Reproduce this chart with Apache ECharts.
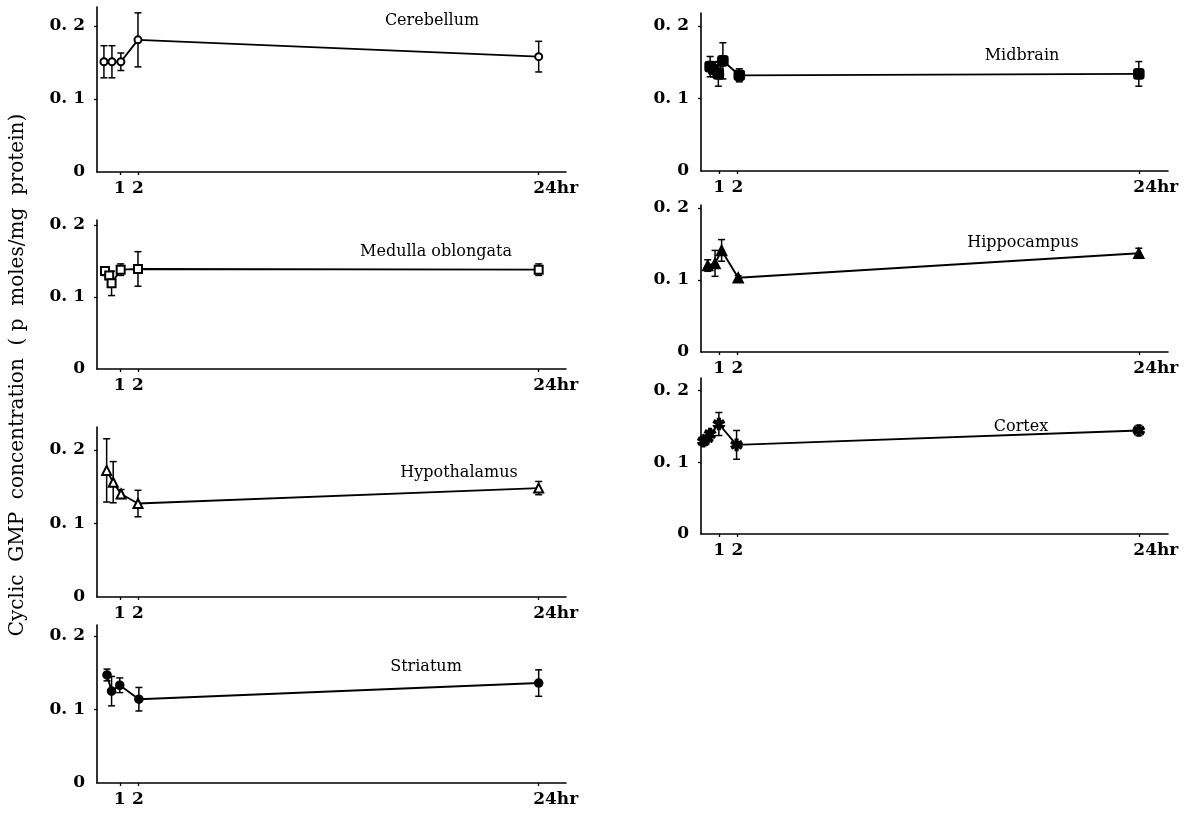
<!DOCTYPE html>
<html>
<head>
<meta charset="utf-8">
<script src="https://cdn.jsdelivr.net/npm/echarts@6/dist/echarts.min.js"></script>
<style>
html, body { margin: 0; padding: 0; background: #fff; }
#chart { width: 1187px; height: 813px; }
</style>
</head>
<body>
<div id="chart"></div>
<script>
// Regions, in drawing order (left column top to bottom, then right column)
const regionNames = ['Cerebellum', 'Medulla oblongata', 'Hypothalamus', 'Striatum',
                     'Midbrain', 'Hippocampus', 'Cortex'];
const axisTitle = 'Cyclic  GMP  concentration  ( p  moles/mg  protein)';
const xTickHours = [1, 2, 24];
const yTickValues = [0, 0.1, 0.2];

// Time after treatment (hr), mean cGMP and error (p moles/mg protein)
const cerebellumHours = [0.13, 0.57, 1.06, 2, 24];
const cerebellumMean  = [0.151, 0.151, 0.151, 0.181, 0.158];
const cerebellumErr   = [0.022, 0.022, 0.012, 0.037, 0.021];

const medullaHours = [0.19, 0.42, 0.55, 1.05, 2, 24];
const medullaMean  = [0.136, 0.130, 0.119, 0.138, 0.139, 0.138];
const medullaErr   = [0.006, 0.005, 0.017, 0.008, 0.024, 0.008];

const hypothalamusHours = [0.28, 0.64, 1.07, 2, 24];
const hypothalamusMean  = [0.172, 0.156, 0.140, 0.127, 0.148];
const hypothalamusErr   = [0.043, 0.028, 0.006, 0.018, 0.009];

const striatumHours = [0.3, 0.55, 1.0, 2.05, 24];
const striatumMean  = [0.147, 0.125, 0.133, 0.114, 0.136];
const striatumErr   = [0.008, 0.020, 0.010, 0.016, 0.018];

const midbrainHours = [0.5, 0.7, 0.95, 1.2, 2.1, 24];
const midbrainMean  = [0.144, 0.140, 0.134, 0.152, 0.132, 0.134];
const midbrainErr   = [0.014, 0.010, 0.017, 0.025, 0.009, 0.017];

const hippocampusHours = [0.37, 0.77, 1.13, 2.04, 24];
const hippocampusMean  = [0.120, 0.123, 0.141, 0.103, 0.137];
const hippocampusErr   = [0.008, 0.018, 0.015, 0.003, 0.007];

const cortexHours = [0.13, 0.35, 0.5, 0.98, 1.95, 24];
const cortexMean  = [0.129, 0.133, 0.139, 0.153, 0.124, 0.144];
const cortexErr   = [0.006, 0.004, 0.005, 0.016, 0.020, 0.007];

const hoursList = [cerebellumHours, medullaHours, hypothalamusHours, striatumHours,
                   midbrainHours, hippocampusHours, cortexHours];
const meanList  = [cerebellumMean, medullaMean, hypothalamusMean, striatumMean,
                   midbrainMean, hippocampusMean, cortexMean];
const errList   = [cerebellumErr, medullaErr, hypothalamusErr, striatumErr,
                   midbrainErr, hippocampusErr, cortexErr];

// Asterisk marker built from three crossed bars
function asteriskPath() {
  const parts = [];
  for (const deg of [0, 60, 120]) {
    const a = deg * Math.PI / 180, c = Math.cos(a), s = Math.sin(a);
    const L = 6, W = 1.4;
    const pts = [[-W, -L], [W, -L], [W, L], [-W, L]]
      .map(([px, py]) => [px * c - py * s + 10, px * s + py * c + 10]);
    parts.push('M' + pts.map(p => p[0].toFixed(2) + ' ' + p[1].toFixed(2)).join(' L') + ' Z');
  }
  return 'path://' + parts.join(' ');
}

// Panel frames and marker styles
const LEFT = { left: 97, width: 469, min: -0.25, max: 25.5 };
const RIGHT = { left: 701, width: 467, min: 0, max: 25.6 };
const frames = [
  { col: LEFT,  top: 7,   height: 165, yMax: 0.226, tx: 432,  ty: 21 },
  { col: LEFT,  top: 220, height: 149, yMax: 0.207, tx: 436,  ty: 252 },
  { col: LEFT,  top: 427, height: 170, yMax: 0.231, tx: 459,  ty: 473 },
  { col: LEFT,  top: 625, height: 158, yMax: 0.215, tx: 426,  ty: 667 },
  { col: RIGHT, top: 13,  height: 158, yMax: 0.218, tx: 1022, ty: 56 },
  { col: RIGHT, top: 205, height: 147, yMax: 0.204, tx: 1023, ty: 243 },
  { col: RIGHT, top: 378, height: 156, yMax: 0.217, tx: 1021, ty: 427 }
];
const markers = [
  { symbol: 'emptyCircle', size: 7 },
  { symbol: 'emptyRect', size: 8 },
  { symbol: 'emptyTriangle', size: 9 },
  { symbol: 'circle', size: 8 },
  { symbol: 'roundRect', size: 10 },
  { symbol: 'triangle', size: 10 },
  { symbol: asteriskPath(), size: 11 }
];

const serifBold = { fontFamily: 'DejaVu Serif', fontWeight: 'bold', fontSize: 17, color: '#000' };

function renderErrorBar(params, api) {
  const x = api.value(0), y = api.value(1), e = api.value(2);
  const hi = api.coord([x, y + e]);
  const lo = api.coord([x, y - e]);
  const w = 3.5;
  const st = { stroke: '#000', lineWidth: 1.5 };
  return {
    type: 'group',
    children: [
      { type: 'line', shape: { x1: hi[0], y1: hi[1], x2: lo[0], y2: lo[1] }, style: st },
      { type: 'line', shape: { x1: hi[0] - w, y1: hi[1], x2: hi[0] + w, y2: hi[1] }, style: st },
      { type: 'line', shape: { x1: lo[0] - w, y1: lo[1], x2: lo[0] + w, y2: lo[1] }, style: st }
    ]
  };
}

const grid = [], xAxis = [], yAxis = [], series = [], graphic = [];

frames.forEach((f, i) => {
  grid.push({ left: f.col.left, width: f.col.width, top: f.top, height: f.height, containLabel: false });
  xAxis.push({
    type: 'value', gridIndex: i, min: f.col.min, max: f.col.max,
    splitLine: { show: false },
    axisLine: { onZero: false, lineStyle: { color: '#000', width: 1.6 } },
    axisTick: { customValues: xTickHours, length: 3, lineStyle: { color: '#000', width: 1.3 } },
    axisLabel: {
      customValues: xTickHours, margin: 8,
      ...serifBold,
      formatter: v => v === 24 ? '{h|24hr}' : String(v),
      rich: { h: { ...serifBold, padding: [0, 0, 0, 34] } }
    }
  });
  yAxis.push({
    type: 'value', gridIndex: i, min: 0, max: f.yMax,
    splitLine: { show: false },
    axisLine: { onZero: false, lineStyle: { color: '#000', width: 1.6 } },
    axisTick: { customValues: [0.1, 0.2], length: 3, lineStyle: { color: '#000', width: 1.3 } },
    axisLabel: {
      customValues: yTickValues, margin: 12,
      ...serifBold,
      formatter: v => v === 0 ? '0' : v.toFixed(1).replace('.', '. ')
    }
  });

  const hours = hoursList[i], mean = meanList[i], err = errList[i];
  series.push({
    type: 'custom', xAxisIndex: i, yAxisIndex: i, z: 2,
    renderItem: renderErrorBar,
    encode: { x: 0, y: 1 },
    data: hours.map((h, k) => [h, mean[k], err[k]]),
    silent: true
  });
  series.push({
    type: 'line', xAxisIndex: i, yAxisIndex: i, z: 3,
    data: hours.map((h, k) => [h, mean[k]]),
    symbol: markers[i].symbol, symbolSize: markers[i].size, symbolKeepAspect: true,
    showAllSymbol: true,
    lineStyle: { color: '#000', width: 1.9 },
    itemStyle: { color: '#000', borderColor: '#000', borderWidth: 1.6 },
    animation: false, silent: true
  });

  graphic.push({
    type: 'text', x: f.tx, y: f.ty,
    style: {
      text: regionNames[i], fontFamily: 'DejaVu Serif', fontSize: 16, fill: '#000',
      align: 'center', verticalAlign: 'middle'
    }
  });
});

// Shared vertical axis title, reading bottom to top
graphic.push({
  type: 'text', x: 18, y: 375, rotation: Math.PI / 2,
  style: {
    text: axisTitle, fontFamily: 'DejaVu Serif', fontSize: 20, fill: '#000',
    align: 'center', verticalAlign: 'middle'
  }
});

const chart = echarts.init(document.getElementById('chart'), null, { renderer: 'canvas' });
chart.setOption({
  backgroundColor: '#fff',
  animation: false,
  grid, xAxis, yAxis, series, graphic
});
</script>
</body>
</html>
